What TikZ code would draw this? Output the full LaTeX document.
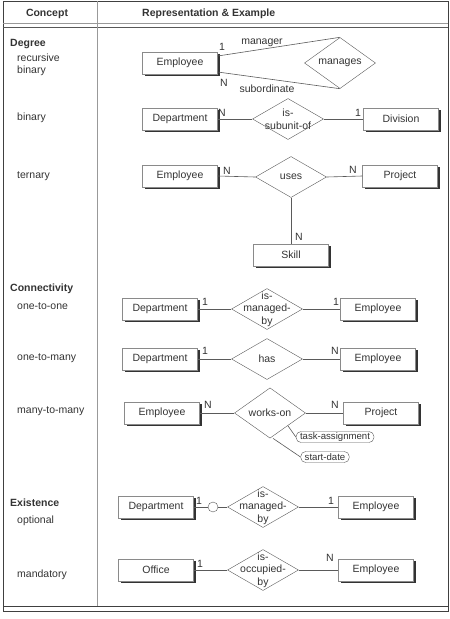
\documentclass[tikz,border=0pt]{standalone}
\usepackage{fontspec}
\setmainfont{Liberation Sans}
\usetikzlibrary{shapes.geometric,shadows}
\definecolor{ink}{HTML}{333333}
\definecolor{edge}{HTML}{5A5A5A}
\definecolor{boxline}{HTML}{8A8A8A}
\tikzset{
	ent/.style={draw=boxline, fill=white, minimum width=75pt, minimum height=22pt, inner sep=0pt,
		drop shadow={shadow xshift=2pt, shadow yshift=-2pt, fill=black!80, opacity=1}},
	rel/.style={diamond, draw=edge, fill=white, minimum width=71pt, minimum height=41pt, inner sep=0pt},
	reltext/.style={align=center, inner sep=0pt, font=\fontsize{10.5}{12.5}\selectfont},
	attr/.style={draw=edge, rounded corners=5pt, fill=white, inner xsep=4pt, inner ysep=0.8pt,
		minimum height=11pt, font=\fontsize{9.6}{10}\selectfont},
	link/.style={draw=edge, line width=0.6pt},
	card/.style={inner sep=0pt},
	head/.style={font=\fontsize{10.5}{12.5}\selectfont\bfseries},
	concept/.style={anchor=west, inner sep=0pt},
}
\begin{document}
\begin{tikzpicture}[x=1pt,y=-1pt,font=\fontsize{10.5}{12.5}\selectfont,text=ink]
	\useasboundingbox (0,0) rectangle (450,619);
	% table
	\draw[line width=1pt,black!75] (3,1) rectangle (448,611);
	\draw[line width=0.9pt,black!40] (3,23) -- (448,23);
	\draw[line width=0.9pt,black!65] (3,27) -- (448,27);
	\draw[line width=0.9pt,black!75] (3,606) -- (448,606);
	\draw[line width=0.9pt,black!40] (97,1) -- (97,606);
	\node[head] (hconcept) at (47,14) {Concept};
	\node[head,anchor=west,inner sep=0pt] (hrep) at (142,14) {Representation \& Example};
	% left column
	\node[concept,head] (ldegree) at (10,44) {Degree};
	\node[concept] (lrec) at (17,58) {recursive};
	\node[concept] (lbin1) at (17,71) {binary};
	\node[concept] (lbin2) at (17,118) {binary};
	\node[concept] (lter) at (17,176) {ternary};
	\node[concept,head] (lconn) at (10,289) {Connectivity};
	\node[concept] (l11) at (17,306) {one-to-one};
	\node[concept] (l1n) at (17,358) {one-to-many};
	\node[concept] (lnn) at (17,411) {many-to-many};
	\node[concept,head] (lexist) at (10,503) {Existence};
	\node[concept] (lopt) at (17,521) {optional};
	\node[concept] (lmand) at (17,575) {mandatory};

	% recursive binary
	\node[ent] (emp1) at (180,63) {Employee};
	\node[rel] (manages) at (340,63) {manages};
	\draw[link] ([yshift=7pt]emp1.east) -- (manages.north);
	\draw[link] ([yshift=-9pt]emp1.east) -- (manages.south);
	\node[card] (c1) at (222,47) {1};
	\node[card] (mgr) at (262,43) {manager};
	\node[card] (c2) at (224,83) {N};
	\node[card] (sub) at (267,89) {subordinate};

	% binary
	\node[ent] (dept1) at (180,119) {Department};
	\node[rel,label={[reltext]center:is-\\subunit-of}] (subunit) at (288,119) {};
	\node[ent] (div) at (401,119) {Division};
	\draw[link] (dept1) -- (subunit) -- (div);
	\node[card] (c3) at (222,113) {N};
	\node[card] (c4) at (358,113) {1};

	% ternary
	\node[ent] (emp2) at (180,176) {Employee};
	\node[rel] (uses) at (291,177) {uses};
	\node[ent] (proj1) at (400,176) {Project};
	\node[ent] (skill) at (291,255) {Skill};
	\draw[link] (emp2.east) -- (uses.west);
	\draw[link] (uses.east) -- (proj1.west);
	\draw[link] (uses) -- (skill);
	\node[card] (c5) at (227,171) {N};
	\node[card] (c6) at (353,170) {N};
	\node[card] (c7) at (299,237) {N};

	% one-to-one
	\node[ent] (dept2) at (160,309) {Department};
	\node[rel,label={[reltext]center:is-\\managed-\\by}] (mngd1) at (267,309) {};
	\node[ent] (emp3) at (378,309) {Employee};
	\draw[link] (dept2) -- (mngd1) -- (emp3);
	\node[card] (c8) at (205,302) {1};
	\node[card] (c9) at (336,302) {1};

	% one-to-many
	\node[ent] (dept3) at (160,359) {Department};
	\node[rel] (has) at (267,359) {has};
	\node[ent] (emp4) at (378,359) {Employee};
	\draw[link] (dept3) -- (has) -- (emp4);
	\node[card] (c10) at (205,351) {1};
	\node[card] (c11) at (335,351) {N};

	% many-to-many
	\node[ent] (emp5) at (162,413) {Employee};
	\node[rel] (works) at (270,413) {works-on};
	\node[ent] (proj2) at (381,413) {Project};
	\draw[link] (emp5) -- (works) -- (proj2);
	\node[card] (c12) at (208,405) {N};
	\node[card] (c13) at (335,405) {N};
	\node[attr] (task) at (335,437) {task-assignment};
	\node[attr] (start) at (325,457) {start-date};
	\draw[link] (works.south east) -- (task.west);
	\draw[link] ([xshift=3pt]works.south) -- (start.west);

	% optional
	\node[ent] (dept4) at (156,507) {Department};
	\node[circle,draw=edge,fill=white,minimum size=10pt,inner sep=0pt] (opt) at (213,507) {};
	\node[rel,label={[reltext]center:is-\\managed-\\by}] (mngd2) at (263,507) {};
	\node[ent] (emp6) at (376,507) {Employee};
	\draw[link] (dept4) -- (opt) -- (mngd2) -- (emp6);
	\node[card] (c14) at (199,501) {1};
	\node[card] (c15) at (331,501) {1};

	% mandatory
	\node[ent] (office) at (156,570) {Office};
	\node[rel,label={[reltext]center:is-\\occupied-\\by}] (occ) at (263,570) {};
	\node[ent] (emp7) at (376,570) {Employee};
	\draw[link] (office) -- (occ) -- (emp7);
	\node[card] (c16) at (200,564) {1};
	\node[card] (c17) at (330,558) {N};
\end{tikzpicture}
\end{document}
